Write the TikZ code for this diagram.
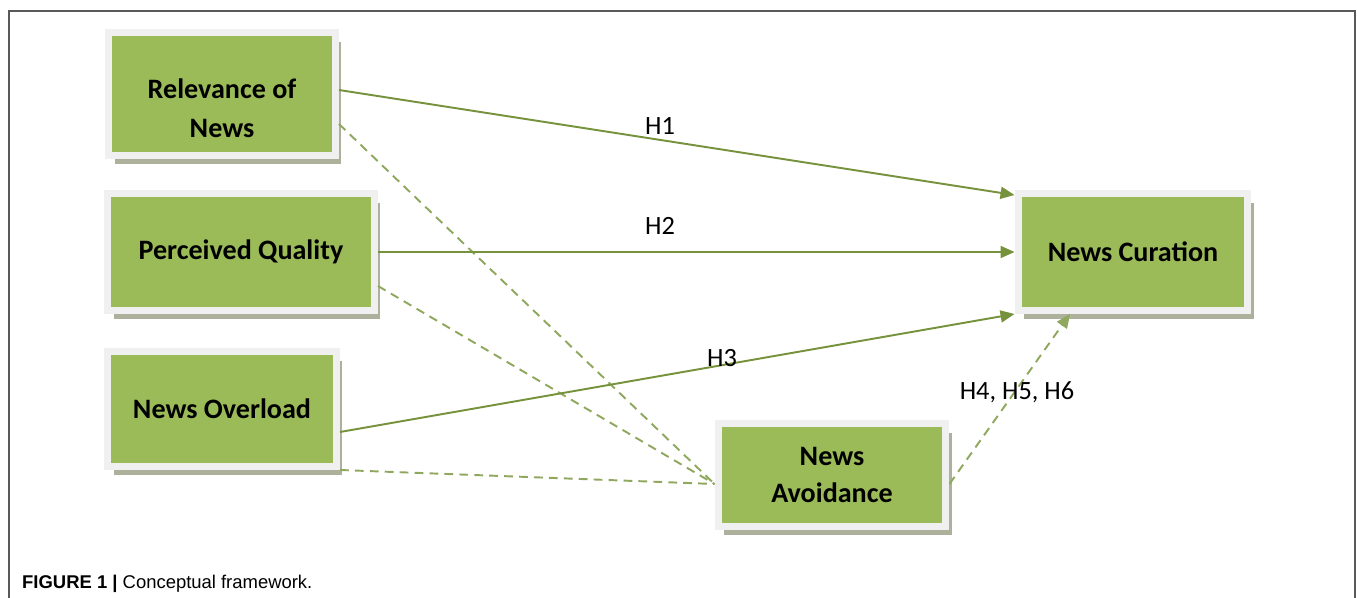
\documentclass[tikz,border=0pt]{standalone}
\usepackage{fontspec}
\setmainfont{Carlito}
\newfontfamily\capfont{Liberation Sans}
\usepackage{xcolor}
\usepackage{tikz}
\usetikzlibrary{arrows.meta,shadows}

\definecolor{boxgreen}{HTML}{9BBB59}
\definecolor{framegray}{HTML}{F0F0F0}
\definecolor{shadowcol}{HTML}{ADB19B}
\definecolor{arrowgreen}{HTML}{76923C}
\definecolor{dashgreen}{HTML}{8FA85E}

\tikzset{
  varbox/.style={fill=boxgreen, draw=framegray, line width=0.14cm,
    align=center, font=\fontsize{16}{21}\selectfont\bfseries,
    drop shadow={shadow xshift=0.12cm, shadow yshift=-0.18cm, fill=shadowcol, opacity=1}},
  hyp/.style={draw=arrowgreen, line width=1.1pt, -{Triangle[length=0.28cm,width=0.24cm]}},
  med/.style={draw=dashgreen, line width=1.1pt, dash pattern=on 5pt off 3.5pt},
  hlabel/.style={font=\fontsize{15}{18}\selectfont}
}

\begin{document}
\begin{tikzpicture}[x=0.02cm,y=-0.02cm]
\useasboundingbox (0,0) rectangle (1357,598);
\draw[line width=1.3pt, black!65] (9,605) -- (9,11) -- (1355,11) -- (1355,605);

% variables
\node[varbox, minimum width=4.54cm, minimum height=2.46cm] (rel) at (222,94)
  {\raisebox{-0.48cm}[0pt][0pt]{\begin{tabular}{@{}c@{}}Relevance of\\[1pt]News\end{tabular}}};
\node[varbox, minimum width=5.34cm, minimum height=2.34cm] (qual) at (241,252) {Perceived Quality};
\node[varbox, minimum width=4.58cm, minimum height=2.30cm] (over) at (222,409) {News Overload};
\node[varbox, minimum width=4.60cm, minimum height=2.34cm] (cur) at (1133,252) {News Curation};
\node[varbox, minimum width=4.56cm, minimum height=2.06cm] (avoid) at (832,475) {News\\Avoidance};

% mediation paths
\draw[med] ([yshift=-0.6cm]rel.east) -- ([yshift=-0.18cm]avoid.west);
\draw[med] ([yshift=-0.68cm]qual.east) -- ([yshift=-0.18cm]avoid.west);
\draw[med] (over.south east) -- ([yshift=-0.18cm]avoid.west);
\draw[med, -{Triangle[length=0.28cm,width=0.24cm]}] ([yshift=-0.18cm]avoid.east) -- ([xshift=-1.26cm]cur.south);

% direct paths
\draw[hyp] ([yshift=0.08cm]rel.east) -- ([yshift=-0.1cm]cur.north west);
\draw[hyp] (qual.east) -- (cur.west);
\draw[hyp] ([yshift=-0.46cm]over.east) -- (cur.south west);

\node[hlabel] (h1) at (660,126) {H1};
\node[hlabel] (h2) at (660,226) {H2};
\node[hlabel] (h3) at (722,358) {H3};
\node[hlabel] (h4) at (1017,392) {H4, H5, H6};

\node[anchor=west, font=\capfont\fontsize{10.5}{12}\selectfont] (cap) at (16,584) {\textbf{FIGURE 1 |} Conceptual framework.};
\end{tikzpicture}
\end{document}
